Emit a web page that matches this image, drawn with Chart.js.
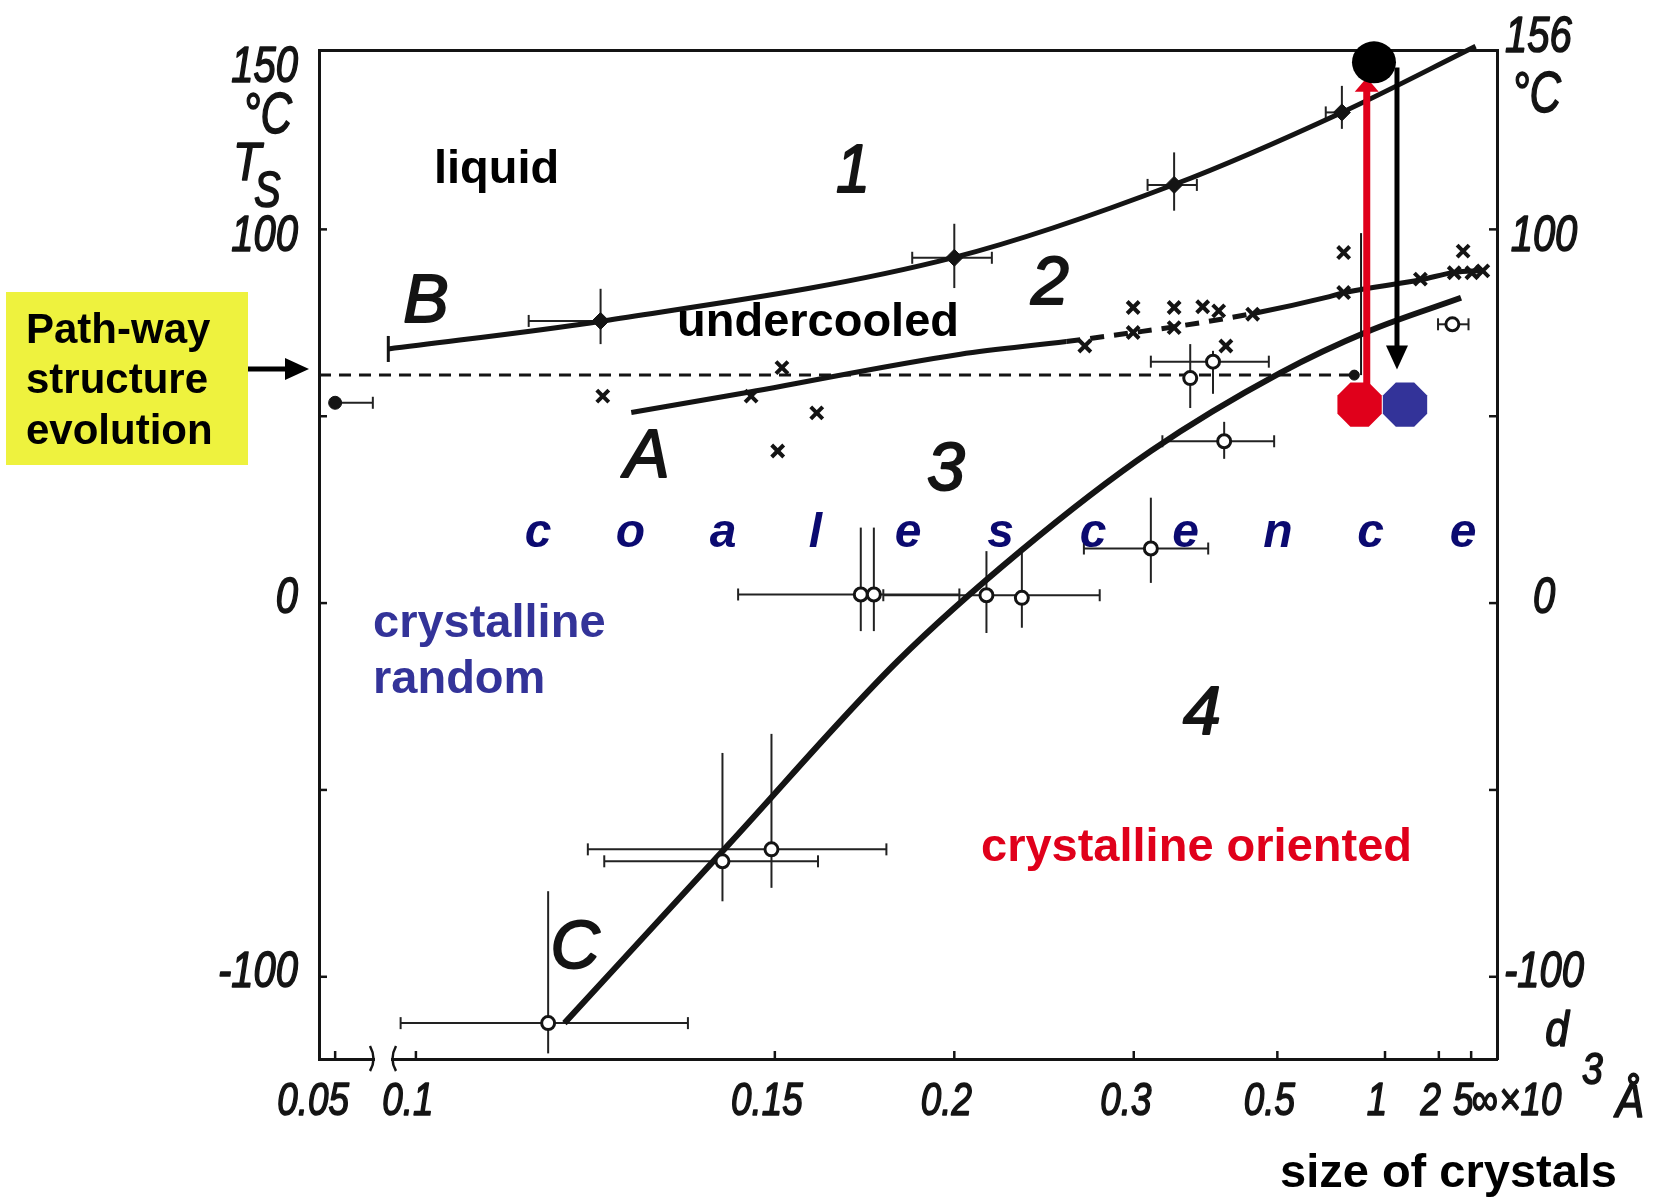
<!DOCTYPE html>
<html>
<head>
<meta charset="utf-8">
<script src="https://cdn.jsdelivr.net/npm/chart.js@4.4.1/dist/chart.umd.min.js"></script>
<style>
  html, body { margin: 0; padding: 0; background: #fff; }
</style>
</head>
<body>
<canvas id="chart" width="1672" height="1198"></canvas>
<script>
// x axis: size of crystals d (x10^3 A), plotted against 1/d, with a break before 0.1
const sizeTicks = [0.05, 0.1, 0.15, 0.2, 0.3, 0.5, 1, 2, 5, Infinity];
const sizeTickLabels = ['0.05', '0.1', '0.15', '0.2', '0.3', '0.5', '1', '2', '5', '\u221e'];
// y axis: temperature Ts in degC
const tempTicks = [-100, -50, 0, 50, 100, 150];
const tempLabelsLeft = ['-100', '', '0', '', '100', '150'];
const tempLabelsRight = ['-100', '', '0', '', '100', ''];

// curve B (liquid / undercooled)
const lineB_d = [0.0975, 0.121, 0.2, 0.338, 0.714, 6.3];
const lineB_T = [68, 75.5, 92.5, 112, 131.3, 149];
// curve A (undercooled / crystalline)
const lineA_d = [0.125, 0.143, 0.2023, 0.2526, 0.30, 0.34, 0.45, 0.66, 0.72, 1.5, 2.8, 10.9];
const lineA_T = [51, 56, 66.6, 70, 72.4, 74, 77.5, 82, 83, 86.5, 88.5, 89];
const lineA_dashed = [0.25, 0.45];
// curve C (random / oriented)
const lineC_d = [0.116, 0.141, 0.181, 0.228, 0.315, 0.507, 0.87, 3.4];
const lineC_T = [-112.4, -64.5, -15.5, 13.9, 40.7, 61.6, 72.8, 81.7];

// filled diamonds on B
const diamond_d = [0.1207, 0.2, 0.338, 0.714];
const diamond_T = [75.5, 92.4, 111.9, 131.3];
const diamond_dErr = [[0.1117, 0.1207], [0.1855, 0.215], [0.312, 0.364], [0.645, 0.714]];
const diamond_TErr = [[69.3, 84.1], [84.3, 101.5], [105, 120.6], [126.9, 138.4]];

// open circles on C
const circle_d = [0.114, 0.1398, 0.1493, 0.1704, 0.174, 0.2127, 0.2287, 0.315, 0.356, 0.385, 0.401, 2.67];
const circle_T = [-112.4, -69.1, -65.9, 2.3, 2.3, 2.1, 1.4, 14.6, 60.2, 64.6, 43.3, 74.6];
const circle_dErr = [[0.0986, 0.1338], [0.1212, 0.1596], [0.119, 0.1776], [0.1427, 0.2019], null,
  [0.1767, 0.274], null, [0.2634, 0.3785], null, [0.315, 0.481], [0.326, 0.4927], [1.97, 4.45]];
const circle_TErr = [[-120.5, -77.1], [-79.8, -40.1], [-76.2, -35], [-7.5, 20.2], [-7.5, 20.2],
  [-8, 13.9], [-6.6, 13.9], [5.4, 28.2], [52.2, 69.3], [56, 67.5], [38.6, 48.5], null];

// crosses around A
const cross_d = [0.121, 0.1452, 0.1515, 0.1593, 0.1506, 0.264, 0.2995, 0.2995, 0.338, 0.338, 0.3713,
  0.393, 0.4486, 0.4036, 0.7225, 0.7225, 1.489, 2.80, 3.64, 5.18, 10.9];
const cross_T = [55.4, 55.4, 63.0, 50.9, 40.7, 68.8, 72.4, 79.1, 73.7, 79.1, 79.3,
  78.2, 77.3, 68.8, 83.1, 93.8, 86.7, 88.4, 94.2, 88.4, 88.9];

// single filled dots: d = 0.05, end of dashed line, 156 degC
const dot_d = [0.05, 0.778, 38];
const dot_T = [53.6, 61, 152.7];
const dot_dErr = [[0.05, 0.06], null, null];

const dashT = 61;
const dashEnd_d = 0.778;
const riser_d = 0.818;
const riser_T = [61, 99];

// path-way markers (d, T)
const pathStart = [0.809, 53.1];
const pathEnd = [1.228, 53.1];
const pathTop = [0.907, 144.7];
const arrowUp = [0.855, 57.6, 140.6];
const arrowDown = [1.125, 143.3, 62.5];

const BREAK_POS = 10.75;
function pos(d) {
  if (d === Infinity) return 0;
  if (d < 0.09) return BREAK_POS - (d - 0.05) * 35;
  return 1 / d;
}
const pts = (ds, ts) => ds.map((d, i) => ({ x: pos(d), y: ts[i] }));

const FONT = '"Liberation Sans", Arial, sans-serif';
const INK = '#141414';

function text(ctx, str, x, y, font, color, align, sx, heavy) {
  ctx.save();
  ctx.font = font;
  ctx.fillStyle = color;
  ctx.textAlign = align || 'left';
  ctx.textBaseline = 'alphabetic';
  ctx.translate(x, y);
  ctx.scale(sx || 1, 1);
  ctx.fillText(str, 0, 0);
  if (heavy) {
    ctx.strokeStyle = color;
    ctx.lineWidth = heavy;
    ctx.lineJoin = 'round';
    ctx.strokeText(str, 0, 0);
  }
  ctx.restore();
}
function seg(ctx, x1, y1, x2, y2) {
  ctx.beginPath(); ctx.moveTo(x1, y1); ctx.lineTo(x2, y2); ctx.stroke();
}
function octagon(ctx, cx, cy, r, color) {
  ctx.beginPath();
  for (let k = 0; k < 8; k++) {
    const a = Math.PI / 8 + k * Math.PI / 4;
    const px = cx + r * Math.cos(a), py = cy + r * Math.sin(a);
    k ? ctx.lineTo(px, py) : ctx.moveTo(px, py);
  }
  ctx.closePath();
  ctx.fillStyle = color;
  ctx.fill();
}

function drawErrors(chart, ds, ts, dErr, tErr) {
  const { ctx, scales: { x, y } } = chart;
  ctx.save();
  ctx.strokeStyle = '#222';
  ctx.lineWidth = 2;
  ds.forEach((d, i) => {
    const px = x.getPixelForValue(pos(d)), py = y.getPixelForValue(ts[i]);
    if (tErr[i]) seg(ctx, px, y.getPixelForValue(tErr[i][0]), px, y.getPixelForValue(tErr[i][1]));
    if (dErr[i]) {
      const a = x.getPixelForValue(pos(dErr[i][0])), b = x.getPixelForValue(pos(dErr[i][1]));
      seg(ctx, a, py, b, py);
      seg(ctx, a, py - 6, a, py + 6);
      seg(ctx, b, py - 6, b, py + 6);
    }
  });
  ctx.restore();
}

const figurePlugin = {
  id: 'figure',
  beforeDatasetsDraw(chart) {
    drawErrors(chart, diamond_d, diamond_T, diamond_dErr, diamond_TErr);
    drawErrors(chart, circle_d, circle_T, circle_dErr, circle_TErr);
    drawErrors(chart, dot_d, dot_T, dot_dErr, [null, null, null]);
    const { ctx, scales: { x, y } } = chart;
    // end bar at the start of curve B
    ctx.save();
    ctx.strokeStyle = INK; ctx.lineWidth = 3;
    const bx = x.getPixelForValue(pos(lineB_d[0])), by = y.getPixelForValue(lineB_T[0]);
    seg(ctx, bx, by - 13, bx, by + 13);
    ctx.restore();
  },
  afterDraw(chart) {
    const { ctx, chartArea: area, scales: { x, y } } = chart;

    // inward tick marks
    ctx.save();
    ctx.strokeStyle = INK; ctx.lineWidth = 2.5;
    tempTicks.forEach(v => {
      if (v > y.max) return;
      const py = y.getPixelForValue(v);
      seg(ctx, area.left, py, area.left + 8, py);
      seg(ctx, area.right, py, area.right - 8, py);
    });
    sizeTicks.forEach(d => {
      if (d === Infinity) return;
      const px = x.getPixelForValue(pos(d));
      seg(ctx, px, area.bottom, px, area.bottom - 8);
    });
    // axis break between 0.05 and 0.1
    ctx.fillStyle = '#fff';
    ctx.fillRect(375, area.bottom - 6, 16, 12);
    ctx.lineWidth = 2.5;
    ctx.beginPath();
    ctx.moveTo(370, area.bottom - 13);
    ctx.quadraticCurveTo(377, area.bottom, 370, area.bottom + 12);
    ctx.moveTo(396, area.bottom - 13);
    ctx.quadraticCurveTo(389, area.bottom, 396, area.bottom + 12);
    ctx.stroke();
    ctx.restore();

    // tick labels
    const xFont = 'italic 46px ' + FONT;
    sizeTicks.forEach((d, i) => {
      let px = x.getPixelForValue(pos(d)) - 8;
      if (i === 0) px -= 14;
      text(ctx, sizeTickLabels[i], px, 1115, xFont, INK, 'center', 0.8, 1.6);
    });
    text(ctx, '\u00d710', 1499, 1115, xFont, INK, 'left', 0.8, 1.6);
    text(ctx, '3', 1582, 1084, 'italic 44px ' + FONT, INK, 'left', 0.85, 1.6);
    text(ctx, '\u00c5', 1630, 1117, 'italic 50px ' + FONT, INK, 'center', 0.85, 1.6);
    const yFont = 'italic 50px ' + FONT;
    tempTicks.forEach((v, i) => {
      const off = v <= 0 ? -8 : 4;
      const py = Math.max(y.getPixelForValue(v), area.top + 10) + 18 + off;
      if (tempLabelsLeft[i]) text(ctx, tempLabelsLeft[i], 298, py, yFont, INK, 'right', 0.8, 1.6);
      if (tempLabelsRight[i]) text(ctx, tempLabelsRight[i], 1544, py, yFont, INK, 'center', 0.8, 1.6);
    });
    text(ctx, '\u00b0C', 243, 133, 'italic 58px ' + FONT, INK, 'left', 0.75, 1.6);
    text(ctx, 'T', 233, 180, 'italic 54px ' + FONT, INK, 'left', 0.85, 1.6);
    text(ctx, 'S', 254, 207, 'italic 50px ' + FONT, INK, 'left', 0.8, 1.6);
    text(ctx, '156', 1505, 52, yFont, INK, 'left', 0.8, 1.6);
    text(ctx, '\u00b0C', 1512, 112, 'italic 58px ' + FONT, INK, 'left', 0.75, 1.6);
    text(ctx, 'd', 1557, 1046, yFont, INK, 'center', 0.85, 1.6);

    // region and curve labels
    const hand = 'italic 68px ' + FONT;
    text(ctx, '1', 853, 192, hand, INK, 'center', 0.9, 2);
    text(ctx, '2', 1050, 304, hand, INK, 'center', 1, 2);
    text(ctx, '3', 946, 490, hand, INK, 'center', 1, 2);
    text(ctx, '4', 1202, 734, hand, INK, 'center', 1, 2);
    text(ctx, 'B', 426, 322, hand, INK, 'center', 1, 2);
    text(ctx, 'A', 647, 477, hand, INK, 'center', 1, 2);
    text(ctx, 'C', 575, 968, hand, INK, 'center', 1, 2);

    // annotations
    const bold = 'bold 47px ' + FONT;
    text(ctx, 'liquid', 434, 183, bold, '#000');
    text(ctx, 'undercooled', 677, 336, bold, '#000');
    text(ctx, 'crystalline', 373, 637, bold, '#333399');
    text(ctx, 'random', 373, 693, bold, '#333399');
    text(ctx, 'crystalline oriented', 981, 861, bold, '#e0001b');
    text(ctx, 'size of crystals', 1280, 1187, bold, '#000');
    'coalescence'.split('').forEach((c, i) => {
      text(ctx, c, 538 + i * 92.5, 547, 'italic bold 48px ' + FONT, '#0b0a70', 'center');
    });

    // path-way box and arrow
    ctx.save();
    ctx.fillStyle = '#eef23e';
    ctx.fillRect(6, 292, 242, 173);
    ctx.restore();
    const boxFont = 'bold 42px ' + FONT;
    text(ctx, 'Path-way', 26, 343, boxFont, '#000');
    text(ctx, 'structure', 26, 393, boxFont, '#000');
    text(ctx, 'evolution', 26, 444, boxFont, '#000');
    ctx.save();
    ctx.strokeStyle = '#000'; ctx.fillStyle = '#000'; ctx.lineWidth = 5;
    seg(ctx, 248, 369, 290, 369);
    ctx.beginPath(); ctx.moveTo(309, 369); ctx.lineTo(285, 358); ctx.lineTo(285, 380); ctx.closePath(); ctx.fill();
    ctx.restore();

    // path-way markers on the diagram
    const P = (d, t) => [x.getPixelForValue(pos(d)), y.getPixelForValue(t)];
    const [ux, uy0] = P(arrowUp[0], arrowUp[1]);
    const uy1 = y.getPixelForValue(arrowUp[2]);
    const [dx, dy0] = P(arrowDown[0], arrowDown[1]);
    const dy1 = y.getPixelForValue(arrowDown[2]);
    ctx.save();
    ctx.strokeStyle = '#000'; ctx.fillStyle = '#000'; ctx.lineWidth = 5;
    seg(ctx, dx, dy0, dx, dy1 - 20);
    ctx.beginPath(); ctx.moveTo(dx, dy1); ctx.lineTo(dx - 11, dy1 - 24); ctx.lineTo(dx + 11, dy1 - 24); ctx.closePath(); ctx.fill();
    ctx.strokeStyle = '#e0001b'; ctx.fillStyle = '#e0001b'; ctx.lineWidth = 7;
    seg(ctx, ux, uy0, ux, uy1 + 12);
    ctx.beginPath(); ctx.moveTo(ux, uy1); ctx.lineTo(ux - 12, uy1 + 14); ctx.lineTo(ux + 12, uy1 + 14); ctx.closePath(); ctx.fill();
    const [tx, ty] = P(pathTop[0], pathTop[1]);
    ctx.beginPath(); ctx.ellipse(tx, ty, 22, 21, 0, 0, Math.PI * 2); ctx.fillStyle = '#000'; ctx.fill();
    ctx.restore();
    const [sx0, sy0] = P(pathStart[0], pathStart[1]);
    const [ex0, ey0] = P(pathEnd[0], pathEnd[1]);
    octagon(ctx, sx0, sy0, 24, '#e0001b');
    octagon(ctx, ex0, ey0, 24, '#333399');
  }
};

const axisBorder = { display: true, color: INK, width: 3 };
const hiddenTicks = { display: false };
const noGrid = { display: false, drawTicks: false };

new Chart(document.getElementById('chart').getContext('2d'), {
  type: 'scatter',
  data: {
    datasets: [
      {
        label: 'crosses', data: pts(cross_d, cross_T),
        pointStyle: 'crossRot', pointRadius: 8.5, borderColor: INK, borderWidth: 4
      },
      {
        label: 'circles', data: pts(circle_d, circle_T),
        pointStyle: 'circle', pointRadius: 6.5, backgroundColor: '#fff', borderColor: INK, borderWidth: 3
      },
      {
        label: 'diamonds', data: pts(diamond_d, diamond_T),
        pointStyle: 'rectRot', pointRadius: 8.5, backgroundColor: INK, borderColor: INK, borderWidth: 1
      },
      {
        label: 'dots', data: pts(dot_d, dot_T), clip: false,
        pointStyle: 'circle', pointRadius: [6.5, 5, 5], backgroundColor: INK, borderColor: INK
      },
      {
        label: 'B', data: pts(lineB_d, lineB_T), showLine: true, clip: false,
        pointRadius: 0, borderColor: INK, borderWidth: 5, cubicInterpolationMode: 'monotone'
      },
      {
        label: 'A', data: pts(lineA_d, lineA_T), showLine: true,
        pointRadius: 0, borderColor: INK, borderWidth: 5, cubicInterpolationMode: 'monotone',
        segment: {
          borderDash: c => (lineA_d[c.p0DataIndex] >= lineA_dashed[0] &&
            lineA_d[c.p1DataIndex] <= lineA_dashed[1]) ? [14, 10] : undefined
        }
      },
      {
        label: 'C', data: pts(lineC_d, lineC_T), showLine: true,
        pointRadius: 0, borderColor: INK, borderWidth: 6, cubicInterpolationMode: 'monotone'
      },
      {
        label: 'dashed', data: [{ x: 10.9, y: dashT }, { x: pos(dashEnd_d), y: dashT }], showLine: true,
        pointRadius: 0, borderColor: INK, borderWidth: 3, borderDash: [12, 8]
      },
      {
        label: 'riser', data: riser_T.map(t => ({ x: pos(riser_d), y: t })), showLine: true,
        pointRadius: 0, borderColor: INK, borderWidth: 2
      }
    ]
  },
  options: {
    responsive: false,
    animation: false,
    events: [],
    layout: { padding: { left: 319, right: 175, top: 50, bottom: 139 } },
    plugins: { legend: { display: false }, tooltip: { enabled: false } },
    scales: {
      x: {
        type: 'linear', position: 'bottom', reverse: true, min: -0.04, max: 10.9,
        afterBuildTicks: s => { s.ticks = sizeTicks.map(d => ({ value: pos(d) })); },
        ticks: hiddenTicks, grid: noGrid, border: axisBorder
      },
      xTop: {
        type: 'linear', position: 'top', reverse: true, min: -0.04, max: 10.9,
        ticks: hiddenTicks, grid: noGrid, border: axisBorder
      },
      y: {
        type: 'linear', position: 'left', min: -122, max: 148,
        afterBuildTicks: s => { s.ticks = tempTicks.map(v => ({ value: v })); },
        ticks: hiddenTicks, grid: noGrid, border: axisBorder
      },
      y2: {
        type: 'linear', position: 'right', min: -122, max: 148,
        ticks: hiddenTicks, grid: noGrid, border: axisBorder
      }
    }
  },
  plugins: [figurePlugin]
});
</script>
</body>
</html>
